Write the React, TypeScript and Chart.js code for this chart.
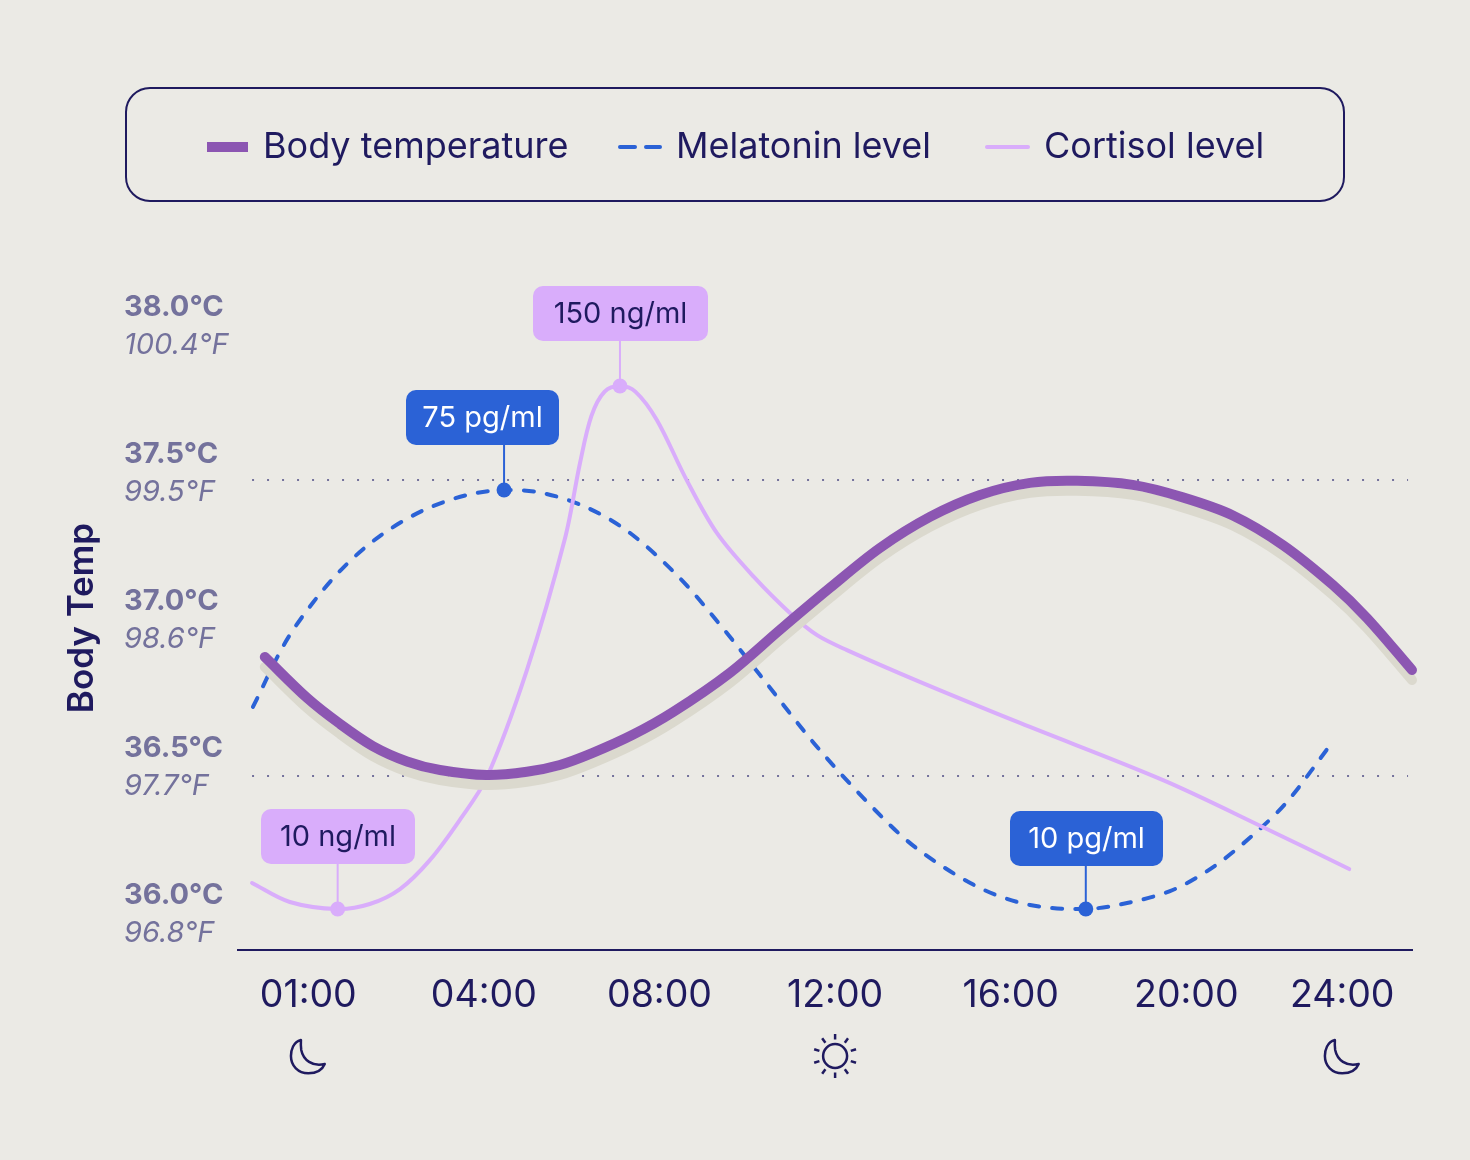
// App.tsx
import React, { useEffect, useRef } from 'react';
import Chart from 'chart.js/auto';

const BG = '#ebeae5';
const NAVY = '#1f1a5f';
const PURPLE = '#8c56b2';
const BLUE = '#2b62d6';
const LILAC = '#d9adfb';
const MUTED = '#74729c';
const FONT = 'Inter, sans-serif';

// x is "slot hours": 01:00 sits on slot 0 and 24:00 on slot 23.55
const xTickHours = [0, 4, 8, 12, 16, 20, 23.55];
const xTickLabels = ['01:00', '04:00', '08:00', '12:00', '16:00', '20:00', '24:00'];

const tempTicks = [36, 36.5, 37, 37.5, 38];
const celsiusLabels = ['36.0°C', '36.5°C', '37.0°C', '37.5°C', '38.0°C'];
const fahrenheitLabels = ['96.8°F', '97.7°F', '98.6°F', '99.5°F', '100.4°F'];
const dottedTemps = [36.5, 37.5];
const dottedHours = [-1.28, 25.05];

const bodyHours = [-0.99, -0.03, 0.72, 1.47, 2.25, 3.0, 4.07, 4.98, 5.73, 6.48, 7.39, 8.31, 9.6, 10.74, 11.88, 13.02, 14.16, 15.3, 16.44, 17.51, 18.78, 19.92, 21.06, 22.2, 23.34, 24.11, 25.14];
const bodyTemp = [36.902, 36.764, 36.676, 36.601, 36.549, 36.52, 36.503, 36.514, 36.537, 36.578, 36.639, 36.716, 36.848, 36.993, 37.135, 37.27, 37.375, 37.449, 37.49, 37.497, 37.483, 37.441, 37.38, 37.28, 37.145, 37.034, 36.858];

const melatoninHours = [-1.26, -0.53, 0.1, 0.81, 1.63, 2.59, 3.61, 4.46, 5.34, 6.37, 7.33, 8.46, 9.44, 10.29, 11.65, 13.18, 14.0, 15.3, 16.44, 17.71, 18.65, 19.69, 20.61, 21.52, 22.29, 23.27];
const melatonin = [41.34, 51.26, 57.47, 63.05, 67.86, 71.74, 74.22, 75, 74.53, 72.21, 68.33, 61.35, 53.59, 46.3, 34.67, 23.5, 18.69, 13.26, 10.62, 10, 10.93, 12.95, 16.51, 21.48, 26.6, 35.36];

const cortisolHours = [-1.28, -0.42, 0.67, 1.4, 2.09, 2.77, 3.45, 4.07, 4.98, 5.85, 6.19, 6.45, 6.75, 7.1, 7.45, 7.94, 8.62, 9.31, 10.15, 11.02, 11.59, 12.27, 13.93, 16.21, 19.47, 21.75, 23.71];
const cortisol = [16.96, 11.87, 10, 11.34, 15.35, 23.1, 33.82, 45.33, 73.97, 109.3, 129.4, 142, 148.5, 150, 148.5, 140.9, 124.8, 110.6, 98.9, 88.7, 83.3, 79.3, 70.8, 59.8, 44.5, 31.9, 20.7];

const melatoninMarkHours = [4.46, 17.71];
const melatoninMarks = [75, 10];
const cortisolMarkHours = [0.67, 7.1];
const cortisolMarks = [10, 150];

const legendNames = ['Body temperature', 'Melatonin level', 'Cortisol level'];

const zip = (xs: number[], ys: number[]) => xs.map((x, i) => ({ x, y: ys[i] }));

const MOON = new Path2D('M-7.3 -16 C-15 -14 -17.3 -6 -17.3 0 C-17.3 10 -10 17.3 0 17.3 C8 17.3 14 14 16.5 8 C4 11 -5 4 -7 -6 C-7.5 -10 -7.5 -13 -7.3 -16 Z');

const roundBox = (ctx: CanvasRenderingContext2D, x: number, y: number, w: number, h: number, r: number) => {
  ctx.beginPath();
  ctx.roundRect(x, y, w, h, r);
};

const drawMoon = (ctx: CanvasRenderingContext2D, x: number, y: number) => {
  ctx.save();
  ctx.translate(x, y);
  ctx.strokeStyle = NAVY;
  ctx.lineWidth = 2.5;
  ctx.lineJoin = 'round';
  ctx.stroke(MOON);
  ctx.restore();
};

const drawSun = (ctx: CanvasRenderingContext2D, x: number, y: number) => {
  ctx.save();
  ctx.translate(x, y);
  ctx.strokeStyle = NAVY;
  ctx.lineWidth = 2.5;
  ctx.beginPath();
  ctx.arc(0, 0, 12, 0, Math.PI * 2);
  ctx.stroke();
  for (let i = 0; i < 10; i++) {
    const a = (i * Math.PI) / 5;
    ctx.beginPath();
    ctx.moveTo(Math.sin(a) * 16.5, -Math.cos(a) * 16.5);
    ctx.lineTo(Math.sin(a) * 22, -Math.cos(a) * 22);
    ctx.stroke();
  }
  ctx.restore();
};

// grey band under the temperature line
const shadowPlugin = {
  id: 'bodyShadow',
  beforeDatasetDraw(chart: any, args: any) {
    if (args.index !== 0) return;
    const ctx = chart.ctx;
    ctx.save();
    ctx.shadowColor = '#dbd9ce';
    ctx.shadowBlur = 0;
    ctx.shadowOffsetY = 10 * chart.currentDevicePixelRatio;
  },
  afterDatasetDraw(chart: any, args: any) {
    if (args.index === 0) chart.ctx.restore();
  },
};

const decorPlugin = {
  id: 'decor',
  afterDraw(chart: any) {
    const ctx: CanvasRenderingContext2D = chart.ctx;
    const { x, y, yMel, yCort } = chart.scales;
    ctx.save();

    // legend
    ctx.strokeStyle = NAVY;
    ctx.lineWidth = 2;
    roundBox(ctx, 126, 88, 1218, 113, 24);
    ctx.stroke();
    ctx.fillStyle = PURPLE;
    ctx.fillRect(207, 142, 41, 10);
    ctx.strokeStyle = BLUE;
    ctx.lineWidth = 4;
    ctx.lineCap = 'round';
    ctx.beginPath();
    ctx.moveTo(620, 147);
    ctx.lineTo(635, 147);
    ctx.moveTo(646, 147);
    ctx.lineTo(660, 147);
    ctx.stroke();
    ctx.strokeStyle = LILAC;
    ctx.beginPath();
    ctx.moveTo(987, 147);
    ctx.lineTo(1028, 147);
    ctx.stroke();
    ctx.fillStyle = NAVY;
    ctx.font = `380 36px ${FONT}`;
    ctx.textBaseline = 'middle';
    ctx.textAlign = 'left';
    ctx.fillText(legendNames[0], 263, 147);
    ctx.fillText(legendNames[1], 676, 147);
    ctx.fillText(legendNames[2], 1044, 147);

    // temperature labels
    ctx.fillStyle = MUTED;
    tempTicks.forEach((t, i) => {
      const p = y.getPixelForValue(t);
      const shift = (t - 37) * 2;
      ctx.font = `700 29px ${FONT}`;
      ctx.fillText(celsiusLabels[i], 124, p - 27 + shift);
      ctx.font = `italic 400 29px ${FONT}`;
      ctx.fillText(fahrenheitLabels[i], 124, p + 11 + shift);
    });

    // callouts
    const callouts = [
      { text: '10 ng/ml', px: x.getPixelForValue(cortisolMarkHours[0]), py: yCort.getPixelForValue(cortisolMarks[0]), left: 261, top: 809, w: 154, fill: LILAC, ink: NAVY },
      { text: '150 ng/ml', px: x.getPixelForValue(cortisolMarkHours[1]), py: yCort.getPixelForValue(cortisolMarks[1]), left: 533, top: 286, w: 175, fill: LILAC, ink: NAVY },
      { text: '75 pg/ml', px: x.getPixelForValue(melatoninMarkHours[0]), py: yMel.getPixelForValue(melatoninMarks[0]), left: 406, top: 390, w: 153, fill: BLUE, ink: '#ffffff' },
      { text: '10 pg/ml', px: x.getPixelForValue(melatoninMarkHours[1]), py: yMel.getPixelForValue(melatoninMarks[1]), left: 1010, top: 811, w: 153, fill: BLUE, ink: '#ffffff' },
    ];
    ctx.font = `380 29px ${FONT}`;
    ctx.textAlign = 'center';
    callouts.forEach((c) => {
      ctx.strokeStyle = c.fill;
      ctx.lineWidth = 2;
      ctx.lineCap = 'butt';
      ctx.beginPath();
      ctx.moveTo(c.px, c.top + 50);
      ctx.lineTo(c.px, c.py);
      ctx.stroke();
      ctx.fillStyle = c.fill;
      roundBox(ctx, c.left, c.top, c.w, 55, 10);
      ctx.fill();
      ctx.fillStyle = c.ink;
      ctx.fillText(c.text, c.left + c.w / 2, c.top + 28);
    });

    // day and night icons under the time axis
    drawMoon(ctx, x.getPixelForValue(xTickHours[0]), 1056);
    drawSun(ctx, x.getPixelForValue(xTickHours[3]), 1056);
    drawMoon(ctx, x.getPixelForValue(xTickHours[6]), 1056);
    ctx.restore();
  },
};

const App: React.FC = () => {
  const canvasRef = useRef<HTMLCanvasElement>(null);

  useEffect(() => {
    document.body.style.margin = '0';
    document.body.style.background = BG;
    const ctx = canvasRef.current?.getContext('2d');
    if (!ctx) return;

    const chart = new Chart(ctx, {
      type: 'line',
      data: {
        datasets: [
          {
            label: legendNames[0],
            data: zip(bodyHours, bodyTemp),
            borderColor: PURPLE,
            borderWidth: 10,
            borderCapStyle: 'round',
            borderJoinStyle: 'round',
            tension: 0.33,
            pointRadius: 0,
            yAxisID: 'y',
            clip: false,
            order: 0,
          },
          {
            label: legendNames[1],
            data: zip(melatoninHours, melatonin),
            borderColor: BLUE,
            borderWidth: 4,
            borderDash: [10, 13.1],
            borderCapStyle: 'round',
            tension: 0.33,
            pointRadius: 0,
            yAxisID: 'yMel',
            clip: false,
            order: 2,
          },
          {
            label: legendNames[2],
            data: zip(cortisolHours, cortisol),
            borderColor: LILAC,
            borderWidth: 4,
            borderCapStyle: 'round',
            tension: 0.33,
            pointRadius: 0,
            yAxisID: 'yCort',
            clip: false,
            order: 1,
          },
          {
            label: 'Melatonin marks',
            data: zip(melatoninMarkHours, melatoninMarks),
            showLine: false,
            pointRadius: 7.5,
            pointBackgroundColor: BLUE,
            pointBorderWidth: 0,
            yAxisID: 'yMel',
            clip: false,
            order: 1,
          },
          {
            label: 'Cortisol marks',
            data: zip(cortisolMarkHours, cortisolMarks),
            showLine: false,
            pointRadius: 7.5,
            pointBackgroundColor: LILAC,
            pointBorderWidth: 0,
            yAxisID: 'yCort',
            clip: false,
            order: 1,
          },
          ...dottedTemps.map((t) => ({
            label: `${t}`,
            data: dottedHours.map((h) => ({ x: h, y: t })),
            borderColor: MUTED,
            borderWidth: 2,
            borderDash: [2, 13],
            pointRadius: 0,
            yAxisID: 'y',
            order: 5,
          })),
        ],
      },
      options: {
        animation: false,
        responsive: false,
        layout: { padding: { left: 61, right: 58, top: 286, bottom: 0 } },
        plugins: { legend: { display: false }, tooltip: { enabled: false } },
        scales: {
          x: {
            type: 'linear',
            min: -1.6,
            max: 25.14,
            afterBuildTicks: (scale: any) => {
              scale.ticks = xTickHours.map((value) => ({ value }));
            },
            afterFit: (scale: any) => {
              scale.height = 210;
            },
            grid: { display: false, drawTicks: false },
            border: { color: NAVY, width: 2 },
            ticks: {
              autoSkip: false,
              maxRotation: 0,
              padding: 23,
              color: NAVY,
              font: { family: FONT, size: 37.5, weight: 380 },
              callback: (_v: any, i: number) => xTickLabels[i],
            },
          },
          y: {
            type: 'linear',
            min: 35.912,
            max: 38.155,
            afterFit: (scale: any) => {
              scale.width = 177;
            },
            grid: { display: false },
            border: { display: false },
            ticks: { display: false },
            title: {
              display: true,
              text: 'Body Temp',
              color: NAVY,
              padding: 0,
              font: { family: FONT, size: 35, weight: 600 },
            },
          },
          yMel: { type: 'linear', display: false, min: 3.64, max: 106.65 },
          yCort: { type: 'linear', display: false, min: -0.97, max: 176.77 },
        },
      },
      plugins: [shadowPlugin, decorPlugin],
    } as any);

    return () => {
      chart.destroy();
    };
  }, []);

  return <canvas ref={canvasRef} width={1470} height={1160} style={{ display: 'block' }} />;
};

export default App;
